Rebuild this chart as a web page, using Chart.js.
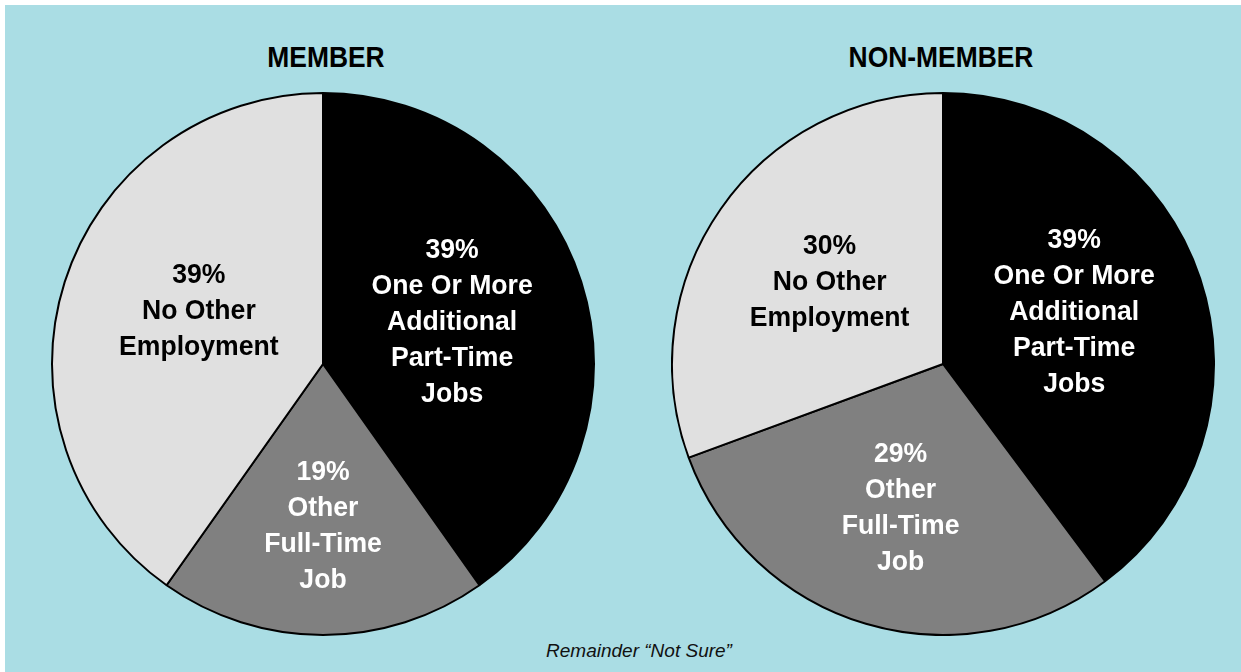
<!DOCTYPE html>
<html>
<head>
<meta charset="utf-8">
<script src="https://cdn.jsdelivr.net/npm/chart.js@4"></script>
<style>
  html, body { margin: 0; padding: 0; background: #fff; }
  #panel { position: absolute; left: 5px; top: 5px; width: 1236px; height: 667px; background: #aadde4; }
  .title { position: absolute; top: 35px; width: 400px; text-align: center; transform: scaleX(0.88);
           font: bold 30px "Liberation Sans", Arial, sans-serif; color: #000; }
  .pie { position: absolute; width: 544px; height: 544px; }
  #note { position: absolute; top: 635px; left: 16px; width: 1236px; text-align: center;
          font: italic 19px "Liberation Sans", Arial, sans-serif; color: #111; }
</style>
</head>
<body>
<div id="panel">
  <div class="title" style="left:121px">MEMBER</div>
  <div class="title" style="left:736px">NON-MEMBER</div>
  <div class="pie" style="left:46px; top:87px"><canvas id="chart1"></canvas></div>
  <div class="pie" style="left:666px; top:87px"><canvas id="chart2"></canvas></div>
  <div id="note">Remainder “Not Sure”</div>
</div>
<script>
// slices, clockwise from 12 o'clock
const categories = ['One Or More Additional Part-Time Jobs', 'Other Full-Time Job', 'No Other Employment'];
const labelLines = [
  ['One Or More', 'Additional', 'Part-Time', 'Jobs'],
  ['Other', 'Full-Time', 'Job'],
  ['No Other', 'Employment'],
];
const memberValues = [39, 19, 39];     // remainder "not sure"
const nonMemberValues = [39, 29, 30];
const sliceColors = ['#000000', '#808080', '#e0e0e0'];
const textColors = ['#ffffff', '#ffffff', '#000000'];

// percent + category text inside each slice
const sliceLabels = {
  id: 'sliceLabels',
  afterDatasetsDraw(chart, args, opts) {
    const ctx = chart.ctx;
    const meta = chart.getDatasetMeta(0);
    const values = chart.data.datasets[0].data;
    ctx.save();
    ctx.font = opts.font;
    ctx.textAlign = 'center';
    ctx.textBaseline = 'middle';
    meta.data.forEach((arc, i) => {
      const p = arc.getProps(['startAngle', 'endAngle', 'outerRadius', 'x', 'y'], true);
      const mid = (p.startAngle + p.endAngle) / 2;
      const r = p.outerRadius * opts.radius[i];
      const cx = p.x + Math.cos(mid) * r + opts.nudge[i][0];
      const cy = p.y + Math.sin(mid) * r + opts.nudge[i][1];
      const lines = [values[i] + '%'].concat(labelLines[i]);
      const top = cy - (lines.length - 1) * opts.lineHeight / 2;
      ctx.fillStyle = textColors[i];
      lines.forEach((t, k) => {
        ctx.save();
        ctx.translate(cx, top + k * opts.lineHeight);
        ctx.scale(opts.squeeze, 1);
        ctx.fillText(t, 0, 0);
        ctx.restore();
      });
    });
    ctx.restore();
  }
};

function makePie(id, values, radius, nudge) {
  return new Chart(document.getElementById(id), {
    type: 'pie',
    data: {
      labels: categories,
      datasets: [{
        data: values,
        backgroundColor: sliceColors,
        borderColor: '#000',
        borderWidth: 2,
      }],
    },
    options: {
      responsive: true,
      maintainAspectRatio: false,
      animation: false,
      layout: { padding: 0 },
      plugins: {
        legend: { display: false },
        tooltip: { enabled: false },
        sliceLabels: {
          font: 'bold 28px "Liberation Sans", Arial, sans-serif',
          lineHeight: 36, squeeze: 0.95, radius: radius, nudge: nudge,
        },
      },
    },
    plugins: [sliceLabels],
  });
}

makePie('chart1', memberValues, [0.5, 0.6, 0.5], [[0, -1], [0, 0], [5, -12]]);
makePie('chart2', nonMemberValues, [0.51, 0.55, 0.51], [[0, -8], [0, 1], [0, -3]]);
</script>
</body>
</html>
